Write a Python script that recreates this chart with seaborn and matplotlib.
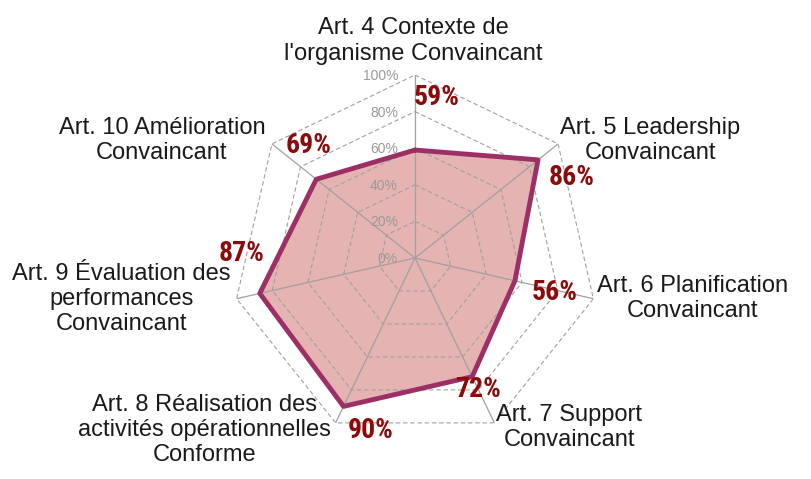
import numpy as np
import matplotlib
matplotlib.use('Agg')
import matplotlib.pyplot as plt
from matplotlib import font_manager
import seaborn as sns

# Données
categories = [
    "Art. 4 Contexte de\nl'organisme Convaincant",
    "Art. 5 Leadership\nConvaincant",
    "Art. 6 Planification\nConvaincant",
    "Art. 7 Support\nConvaincant",
    "Art. 8 Réalisation des\nactivités opérationnelles\nConforme",
    "Art. 9 Évaluation des\nperformances\nConvaincant",
    "Art. 10 Amélioration\nConvaincant",
]
values = [0.59, 0.86, 0.56, 0.72, 0.90, 0.87, 0.69]
tick_values = [0.0, 0.2, 0.4, 0.6, 0.8, 1.0]
tick_labels = ['0%', '20%', '40%', '60%', '80%', '100%']

# décalages des étiquettes (pixels)
cat_offsets = [(-2, 34), (92, 3), (99, 0), (75, -5), (-131, -7), (-115, 0), (-110, 3)]
val_offsets = [(22, 53), (34, -18), (40, -12), (6, -13), (27, -24), (-18, 40), (-8, 34)]

sns.set_theme(style='white')
plt.rcParams['font.family'] = ['Liberation Sans', 'DejaVu Sans']

# police étroite si disponible (Arial Narrow dans l'original)
installed = {f.name for f in font_manager.fontManager.ttflist}
narrow = None
for name in ['Liberation Sans Narrow', 'Arial Narrow', 'Roboto Condensed', 'Open Sans Condensed']:
    if name in installed:
        narrow = font_manager.FontProperties(family=name, weight='bold', size=20)
        break
if narrow is None:
    narrow = font_manager.FontProperties(family='Liberation Sans', weight='bold', size=16.5)

line_color = '#9C3066'
fill_color = '#D98A8A'
label_color = '#8B0A0A'
grid_color = '#A0A0A0'

n = len(categories)
theta = np.arange(n) * 2 * np.pi / n
theta_closed = np.append(theta, theta[0])

fig = plt.figure(figsize=(8.11, 4.79), dpi=100)
W, H = 811, 479
cx, cy, R = 415, 258, 183
ax = fig.add_axes([(cx - R) / W, (H - cy - R) / H, 2 * R / W, 2 * R / H], projection='polar')
ax.set_theta_zero_location('N')
ax.set_theta_direction(-1)
ax.set_ylim(0, 1)
ax.grid(False)
ax.spines['polar'].set_visible(False)
ax.set_xticks([])
ax.set_yticks([])
ax.patch.set_alpha(0)

# grille heptagonale
for t in tick_values[1:]:
    ax.plot(theta_closed, [t] * (n + 1), color=grid_color, lw=0.8, ls=(0, (4, 2.5)), zorder=3)
for th in theta:
    ax.plot([th, th], [0, 1], color=grid_color, lw=0.9, zorder=3)

# série
vals_closed = values + [values[0]]
ax.fill(theta_closed, vals_closed, color=fill_color, alpha=0.65, lw=0, zorder=2)
sns.lineplot(x=theta_closed, y=vals_closed, ax=ax, sort=False, estimator=None,
             color=line_color, lw=3.5, zorder=4)
ax.set_xlabel('')
ax.set_ylabel('')

# graduations
for t, lab in zip(tick_values, tick_labels):
    ax.annotate(lab, xy=(0, t), xytext=(-17, -1), textcoords='offset pixels',
                ha='right', va='center', fontsize=10, color='#999999', zorder=5)

# étiquettes des catégories
for th, lab, (dx, dy) in zip(theta, categories, cat_offsets):
    ax.annotate(lab, xy=(th, 1.0), xytext=(dx, dy), textcoords='offset pixels',
                ha='center', va='center', fontsize=17, color='#1a1a1a',
                linespacing=1.18, annotation_clip=False)

# étiquettes des valeurs
for th, v, (dx, dy) in zip(theta, values, val_offsets):
    ax.annotate(f'{v * 100:.0f}%', xy=(th, v), xytext=(dx, dy), textcoords='offset pixels',
                ha='center', va='center', fontproperties=narrow,
                color=label_color, annotation_clip=False, zorder=6)

fig.savefig('out.png', dpi=100)
